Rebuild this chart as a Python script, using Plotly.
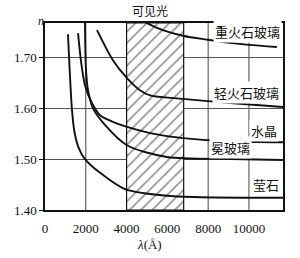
import plotly.graph_objects as go

# Data (wavelength in Å, refractive index n)
heavy_flint_wl = [4650, 5150, 5780, 6760, 8000, 9070, 10000, 11370]
heavy_flint_n = [1.775, 1.764, 1.753, 1.742, 1.734, 1.728, 1.724, 1.720]

light_flint_wl = [2550, 3330, 4020, 4660, 5150, 6760, 9070, 11670]
light_flint_n = [1.753, 1.694, 1.659, 1.635, 1.625, 1.618, 1.610, 1.602]

quartz_wl = [1620, 1760, 1960, 2300, 2700, 3330, 4020, 5150, 6760, 9070, 11670]
quartz_n = [1.747, 1.694, 1.645, 1.610, 1.586, 1.573, 1.563, 1.551, 1.541, 1.535, 1.533]

crown_wl = [1960, 2010, 2110, 2350, 2940, 4020, 5980, 9070, 11670]
crown_n = [1.767, 1.675, 1.635, 1.600, 1.567, 1.527, 1.504, 1.500, 1.498]

fluorite_wl = [1127, 1324, 1450, 1650, 1960, 2700, 3920, 5980, 11670]
fluorite_n = [1.745, 1.596, 1.552, 1.522, 1.500, 1.473, 1.441, 1.428, 1.424]

visible_range = [4000, 6800]
x_ticks = [0, 2000, 4000, 6000, 8000, 10000]
y_ticks = [1.40, 1.50, 1.60, 1.70]
x_grid = [2000, 6000, 8000, 10000]

labels = ["重火石玻璃", "轻火石玻璃", "水晶", "冕玻璃", "莹石"]
label_pos_wl = [9950, 9900, 10740, 9120, 10830]
label_pos_n = [1.750, 1.631, 1.557, 1.522, 1.451]

X_MAX = 11670
Y_MIN, Y_MAX = 1.40, 1.767

fig = go.Figure()

# hatched visible light band
fig.add_trace(go.Scatter(
    x=[visible_range[0], visible_range[1], visible_range[1], visible_range[0], visible_range[0]],
    y=[Y_MIN, Y_MIN, Y_MAX, Y_MAX, Y_MIN],
    fill="toself", fillcolor="white", mode="lines",
    line=dict(color="#111", width=1.2),
    fillpattern=dict(shape="/", fgcolor="#222", bgcolor="white", size=8, solidity=0.2),
    hoverinfo="skip", showlegend=False))

series = [
    (heavy_flint_wl, heavy_flint_n),
    (light_flint_wl, light_flint_n),
    (quartz_wl, quartz_n),
    (crown_wl, crown_n),
    (fluorite_wl, fluorite_n),
]
for wl, nn in series:
    fig.add_trace(go.Scatter(x=wl, y=nn, mode="lines",
                             line=dict(color="#111", width=1.9, shape="spline", smoothing=0.8),
                             showlegend=False))

shapes = []
for gx in x_grid:
    shapes.append(dict(type="line", xref="x", yref="y", x0=gx, x1=gx, y0=Y_MIN, y1=Y_MAX,
                       line=dict(color="#444", width=1), layer="below"))

annotations = []
for t, lx, ly in zip(labels, label_pos_wl, label_pos_n):
    annotations.append(dict(x=lx, y=ly, xref="x", yref="y", text=t, showarrow=False,
                            font=dict(family="Noto Sans CJK SC", size=13, color="#111"),
                            bgcolor="white", borderpad=1))
annotations.append(dict(x=0.44, y=1.0, xref="paper", yref="paper", yanchor="middle", yshift=13,
                        text="可见光", showarrow=False,
                        font=dict(family="Noto Sans CJK SC", size=12, color="#111")))
annotations.append(dict(x=0, y=1.0, xref="paper", yref="paper", yanchor="middle",
                        xshift=-9, yshift=2,
                        text="<i>n</i>", showarrow=False,
                        font=dict(family="Liberation Serif", size=12, color="#111")))
annotations.append(dict(x=0.44, y=0, xref="paper", yref="paper", yanchor="middle", yshift=-34,
                        text="<i>λ</i>(Å)", showarrow=False,
                        font=dict(family="Liberation Serif", size=13, color="#111")))

fig.update_layout(
    width=300, height=258,
    margin=dict(l=45, r=17, t=23, b=48),
    paper_bgcolor="white", plot_bgcolor="white",
    shapes=shapes, annotations=annotations,
    xaxis=dict(range=[0, X_MAX], tickvals=x_ticks, ticktext=[str(v) for v in x_ticks],
               showgrid=False, zeroline=False, showline=True, linecolor="#111", linewidth=1.5,
               mirror=True, ticks="", ticklabelstandoff=6,
               tickfont=dict(family="Liberation Serif", size=13, color="#111")),
    yaxis=dict(range=[Y_MIN, Y_MAX], tickvals=y_ticks, ticktext=["1.40", "1.50", "1.60", "1.70"],
               showgrid=True, gridcolor="#555", gridwidth=1, zeroline=False,
               showline=True, linecolor="#111", linewidth=1.5, mirror=True,
               ticks="outside", ticklen=4, tickcolor="#111",
               tickfont=dict(family="Liberation Serif", size=13, color="#111")),
)

fig.write_html("out.html")
